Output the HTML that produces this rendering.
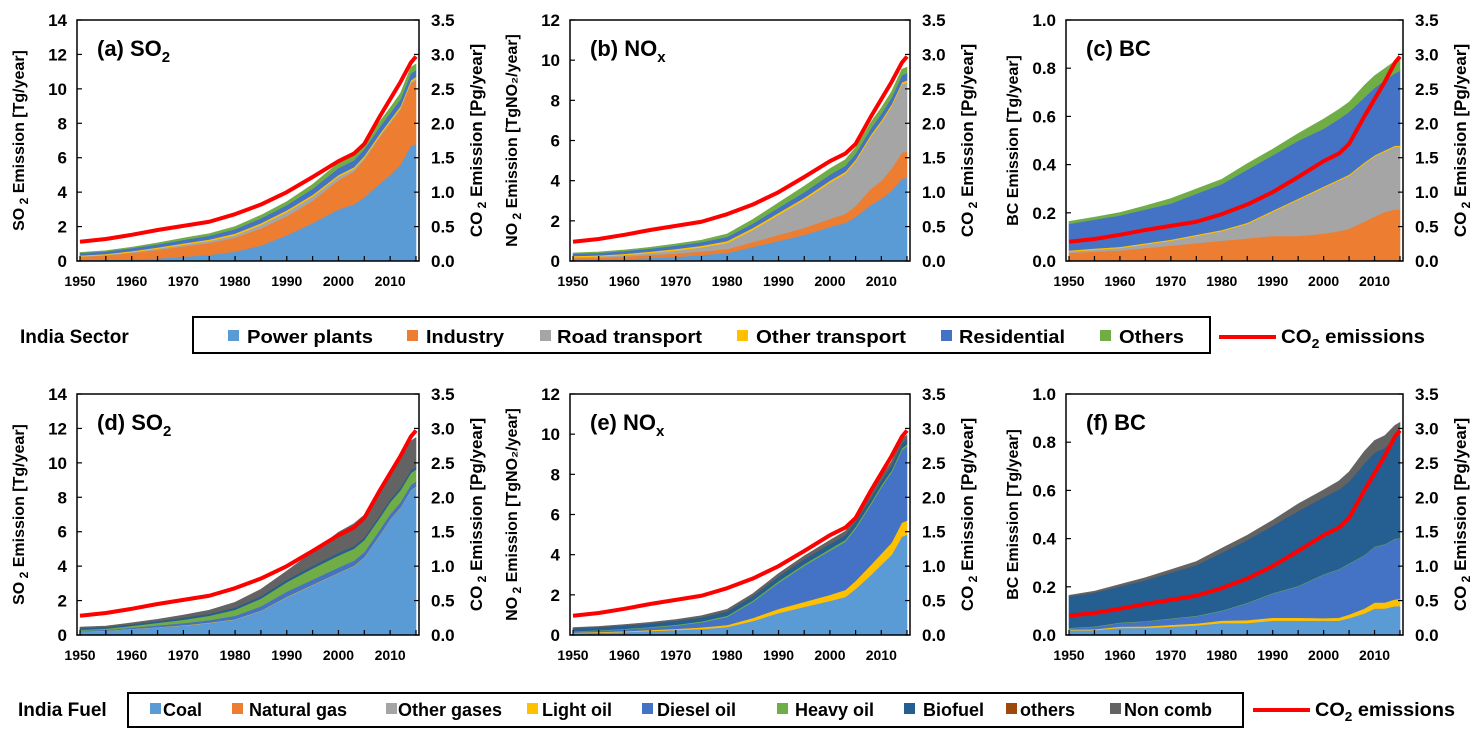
<!DOCTYPE html>
<html><head><meta charset="utf-8"><style>
body{margin:0;background:#fff;}
svg{display:block;font-family:"Liberation Sans",sans-serif;}
</style></head><body>
<svg id="fig" width="1482" height="743" viewBox="0 0 1482 743"></svg>
<script>
const years=[1950,1955,1960,1965,1970,1975,1980,1985,1990,1995,2000,2003,2005,2008,2010,2012,2014,2015];
const co2=[0.28,0.32,0.38,0.45,0.51,0.57,0.68,0.82,1.0,1.22,1.45,1.56,1.7,2.1,2.35,2.6,2.88,2.97];
const secColors=["#5b9bd5","#ed7d31","#a5a5a5","#ffc000","#4472c4","#70ad47"];
const fuelColors=["#5b9bd5","#ed7d31","#a5a5a5","#ffc000","#4472c4","#70ad47","#255e91","#9e480e","#636363"];
// (a) SO2 by sector
const aPower=[0.05,0.08,0.12,0.15,0.25,0.35,0.55,0.9,1.5,2.2,3.0,3.3,3.7,4.5,5.0,5.6,6.7,6.8];
const aIndustry=[0.2,0.25,0.35,0.5,0.6,0.7,0.8,1.0,1.1,1.3,1.7,1.9,2.2,2.7,3.0,3.2,3.6,3.7];
const aRoad=[0.02,0.03,0.05,0.07,0.1,0.12,0.15,0.2,0.25,0.25,0.2,0.15,0.1,0.1,0.1,0.1,0.1,0.1];
const aOtherTr=[0.05,0.05,0.06,0.07,0.08,0.08,0.1,0.1,0.1,0.1,0.1,0.1,0.1,0.1,0.1,0.1,0.1,0.1];
const aResid=[0.15,0.15,0.17,0.18,0.2,0.22,0.25,0.28,0.3,0.35,0.4,0.4,0.4,0.4,0.4,0.4,0.4,0.4];
const aOthers=[0.03,0.04,0.05,0.08,0.1,0.12,0.15,0.18,0.2,0.25,0.3,0.3,0.3,0.3,0.3,0.35,0.35,0.35];
// (b) NOx by sector
const bPower=[0.05,0.07,0.1,0.15,0.2,0.3,0.4,0.7,1.0,1.3,1.7,1.9,2.2,2.8,3.1,3.5,4.1,4.15];
const bIndustry=[0.1,0.1,0.12,0.15,0.17,0.18,0.2,0.25,0.3,0.35,0.4,0.45,0.55,0.8,0.9,1.1,1.3,1.3];
const bRoad=[0.05,0.06,0.08,0.1,0.15,0.2,0.3,0.6,1.0,1.4,1.8,2.0,2.2,2.6,2.9,3.1,3.4,3.45];
const bOtherTr=[0.05,0.05,0.06,0.07,0.08,0.08,0.1,0.1,0.1,0.1,0.1,0.1,0.1,0.1,0.1,0.1,0.1,0.1];
const bResid=[0.12,0.13,0.14,0.15,0.17,0.18,0.2,0.22,0.25,0.28,0.3,0.3,0.3,0.32,0.33,0.34,0.35,0.35];
const bOthers=[0.03,0.04,0.05,0.06,0.08,0.1,0.15,0.2,0.25,0.3,0.3,0.3,0.3,0.3,0.3,0.3,0.3,0.3];
// (c) BC by sector
const cPower=[0.004,0.004,0.004,0.004,0.004,0.004,0.004,0.004,0.004,0.004,0.004,0.004,0.004,0.004,0.004,0.004,0.004,0.004];
const cIndustry=[0.03,0.035,0.04,0.05,0.06,0.07,0.08,0.09,0.1,0.1,0.11,0.12,0.13,0.16,0.18,0.2,0.21,0.21];
const cRoad=[0.005,0.008,0.01,0.015,0.02,0.03,0.04,0.06,0.1,0.15,0.19,0.21,0.22,0.24,0.25,0.25,0.26,0.26];
const cOtherTr=[0.005,0.005,0.005,0.005,0.005,0.005,0.005,0.005,0.005,0.005,0.005,0.005,0.005,0.005,0.005,0.005,0.005,0.005];
const cResid=[0.11,0.12,0.13,0.14,0.15,0.17,0.19,0.22,0.23,0.24,0.24,0.25,0.26,0.27,0.28,0.29,0.3,0.31];
const cOthers=[0.01,0.01,0.012,0.015,0.02,0.02,0.02,0.025,0.025,0.03,0.04,0.04,0.04,0.05,0.05,0.05,0.05,0.05];
// (d) SO2 by fuel
const dCoal=[0.2,0.25,0.35,0.45,0.55,0.7,0.9,1.4,2.2,2.9,3.6,4.0,4.5,5.8,6.7,7.4,8.4,8.6];
const dGas=[0,0,0,0,0,0,0,0,0,0,0,0,0,0,0,0,0,0];
const dOtherGas=[0,0,0,0,0,0,0,0,0,0,0,0,0,0,0,0,0,0];
const dLight=[0.01,0.01,0.01,0.01,0.02,0.02,0.02,0.02,0.02,0.02,0.02,0.02,0.02,0.02,0.02,0.02,0.02,0.02];
const dDiesel=[0.05,0.05,0.07,0.1,0.12,0.15,0.2,0.25,0.3,0.3,0.3,0.3,0.3,0.3,0.3,0.3,0.3,0.3];
const dHeavy=[0.05,0.06,0.1,0.15,0.2,0.25,0.35,0.45,0.55,0.65,0.7,0.7,0.7,0.7,0.7,0.7,0.7,0.7];
const dBio=[0.1,0.1,0.1,0.1,0.12,0.12,0.13,0.14,0.15,0.15,0.15,0.15,0.15,0.15,0.15,0.15,0.15,0.15];
const dOthers=[0,0,0,0,0,0,0,0,0,0,0,0,0,0,0,0,0,0];
const dNonComb=[0.05,0.05,0.08,0.1,0.15,0.2,0.3,0.4,0.5,0.8,1.2,1.3,1.3,1.4,1.5,1.6,1.7,1.7];
// (e) NOx by fuel
const eCoal=[0.1,0.12,0.15,0.2,0.25,0.3,0.4,0.7,1.1,1.4,1.7,1.9,2.3,3.0,3.5,4.0,4.9,5.0];
const eGas=[0,0,0,0,0,0,0,0,0,0,0,0,0,0,0,0,0,0];
const eOtherGas=[0,0,0,0,0,0,0,0,0,0,0,0,0,0,0,0,0,0];
const eLight=[0.02,0.03,0.04,0.05,0.06,0.08,0.1,0.15,0.2,0.25,0.3,0.35,0.4,0.5,0.55,0.6,0.7,0.7];
const eDiesel=[0.05,0.07,0.09,0.12,0.16,0.25,0.4,0.8,1.3,1.8,2.2,2.4,2.6,3.0,3.3,3.5,3.6,3.7];
const eHeavy=[0.02,0.02,0.03,0.03,0.04,0.05,0.06,0.07,0.08,0.08,0.09,0.09,0.1,0.1,0.1,0.1,0.1,0.1];
const eBio=[0.15,0.16,0.17,0.18,0.2,0.2,0.22,0.22,0.24,0.25,0.25,0.25,0.25,0.25,0.25,0.25,0.25,0.25];
const eOthers=[0,0,0,0,0,0,0,0,0,0,0,0,0,0,0,0,0,0];
const eNonComb=[0.03,0.03,0.04,0.05,0.06,0.08,0.1,0.12,0.14,0.16,0.18,0.18,0.18,0.2,0.2,0.2,0.2,0.2];
// (f) BC by fuel
const fCoal=[0.02,0.02,0.03,0.03,0.035,0.04,0.05,0.05,0.06,0.06,0.06,0.06,0.07,0.09,0.11,0.11,0.12,0.12];
const fGas=[0,0,0,0,0,0,0,0,0,0,0,0,0,0,0,0,0,0];
const fOtherGas=[0,0,0,0,0,0,0,0,0,0,0,0,0,0,0,0,0,0];
const fLight=[0.003,0.004,0.005,0.006,0.007,0.008,0.01,0.012,0.012,0.012,0.01,0.012,0.015,0.02,0.025,0.025,0.028,0.03];
const fDiesel=[0.005,0.01,0.015,0.02,0.025,0.03,0.04,0.07,0.1,0.13,0.18,0.2,0.21,0.22,0.23,0.24,0.25,0.25];
const fHeavy=[0.002,0.002,0.002,0.002,0.002,0.002,0.002,0.002,0.002,0.002,0.002,0.002,0.002,0.002,0.002,0.002,0.002,0.002];
const fBio=[0.13,0.14,0.15,0.17,0.19,0.21,0.24,0.26,0.28,0.31,0.32,0.33,0.34,0.38,0.39,0.4,0.42,0.43];
const fOthers=[0,0,0,0,0,0,0,0,0,0,0,0,0,0,0,0,0,0];
const fNonComb=[0.005,0.006,0.008,0.01,0.012,0.015,0.018,0.02,0.022,0.03,0.03,0.035,0.04,0.05,0.05,0.05,0.05,0.05];
const xTicks=[1950,1960,1970,1980,1990,2000,2010];
const rTicks=["0.0","0.5","1.0","1.5","2.0","2.5","3.0","3.5"];

const NS="http://www.w3.org/2000/svg";
const svg=document.getElementById('fig');
function mk(tag,attrs,parent){const e=document.createElementNS(NS,tag);for(const k in attrs)e.setAttribute(k,attrs[k]);(parent||svg).appendChild(e);return e;}

const panels=[
 {id:"a",L:77,R:419,T:20,B:261,ymax:14,step:2,dec:0,title:"(a) SO",sub:"2",ylab:["SO"," 2"," Emission [Tg/year]"],series:[aPower,aIndustry,aRoad,aOtherTr,aResid,aOthers],colors:secColors},
 {id:"b",L:570,R:910,T:20,B:261,ymax:12,step:2,dec:0,title:"(b) NO",sub:"x",ylab:["NO"," 2"," Emission [TgNO\u2082/year]"],series:[bPower,bIndustry,bRoad,bOtherTr,bResid,bOthers],colors:secColors},
 {id:"c",L:1066,R:1403,T:20,B:261,ymax:1.0,step:0.2,dec:1,title:"(c) BC",sub:"",ylab:["BC Emission [Tg/year]"],series:[cPower,cIndustry,cRoad,cOtherTr,cResid,cOthers],colors:secColors},
 {id:"d",L:77,R:419,T:394,B:635,ymax:14,step:2,dec:0,title:"(d) SO",sub:"2",ylab:["SO"," 2"," Emission [Tg/year]"],series:[dCoal,dGas,dOtherGas,dLight,dDiesel,dHeavy,dBio,dOthers,dNonComb],colors:fuelColors},
 {id:"e",L:570,R:910,T:394,B:635,ymax:12,step:2,dec:0,title:"(e) NO",sub:"x",ylab:["NO"," 2"," Emission [TgNO\u2082/year]"],series:[eCoal,eGas,eOtherGas,eLight,eDiesel,eHeavy,eBio,eOthers,eNonComb],colors:fuelColors},
 {id:"f",L:1066,R:1403,T:394,B:635,ymax:1.0,step:0.2,dec:1,title:"(f) BC",sub:"",ylab:["BC Emission [Tg/year]"],series:[fCoal,fGas,fOtherGas,fLight,fDiesel,fHeavy,fBio,fOthers,fNonComb],colors:fuelColors}
];

panels.forEach(p=>{
  const g=mk('g',{});
  
  
  const x=yr=>p.L+3+(yr-1950)/65*(p.R-p.L-6);
  const y=v=>p.B-v/p.ymax*(p.B-p.T);
  const yr2=v=>p.B-v/3.5*(p.B-p.T);
  let base=years.map(()=>0);
  p.series.forEach((s,si)=>{
    const top=base.map((b,i)=>b+s[i]);
    let d="M"+years.map((yy,i)=>x(yy)+","+y(top[i])).join("L");
    for(let i=years.length-1;i>=0;i--) d+="L"+x(years[i])+","+y(base[i]);
    d+="Z";
    const a=mk('path',{d:d,fill:p.colors[si],stroke:p.colors[si],'stroke-width':0.6},g);
    
    
    base=top;
  });
  const ln=mk('polyline',{points:years.map((yy,i)=>x(yy)+","+yr2(co2[i])).join(" "),fill:"none",stroke:"#ff0000","stroke-width":4,"stroke-linejoin":"round"},g);
  
  
  const fr=mk('rect',{x:p.L,y:p.T,width:p.R-p.L,height:p.B-p.T,fill:"none",stroke:"#000","stroke-width":1.5},g);
  
  
  for(let yy=1950;yy<=2015;yy+=5){mk('line',{x1:x(yy),x2:x(yy),y1:p.B,y2:p.B-5,stroke:"#000","stroke-width":1.2},g);}
  xTicks.forEach(yy=>{const t=mk('text',{x:x(yy),y:p.B+25,'text-anchor':'middle','font-size':14,'font-weight':'bold'},g);t.textContent=yy;
    
    });
  const n=Math.round(p.ymax/p.step);
  for(let k=0;k<=n;k++){const v=k*p.step;
    mk('line',{x1:p.L,x2:p.L+5,y1:y(v),y2:y(v),stroke:"#000","stroke-width":1.2},g);
    const t=mk('text',{x:p.L-10,y:y(v)+6,'text-anchor':'end','font-size':17,'font-weight':'bold'},g);t.textContent=v.toFixed(p.dec);
    
    }
  rTicks.forEach((lab,k)=>{const v=k*0.5;
    mk('line',{x1:p.R,x2:p.R-5,y1:yr2(v),y2:yr2(v),stroke:"#000","stroke-width":1.2},g);
    const t=mk('text',{x:p.R+12,y:yr2(v)+6,'font-size':17,'font-weight':'bold'},g);t.textContent=lab;
    
    });
  const cy=(p.T+p.B)/2;
  const lx=p.L-(p.ymax>=10?53:48);
  const lt=mk('text',{x:lx,y:cy,'text-anchor':'middle','font-size':16,'font-weight':'bold',transform:`rotate(-90 ${lx} ${cy})`},g);
  
  
  if(p.ylab.length===1){lt.textContent=p.ylab[0];}
  else{const s1=mk('tspan',{},lt);s1.textContent=p.ylab[0];const s2=mk('tspan',{'font-size':12,dy:4},lt);s2.textContent=p.ylab[1];const s3=mk('tspan',{dy:-4},lt);s3.textContent=p.ylab[2];}
  const rx=p.R+63;
  const rt=mk('text',{x:rx,y:cy,'text-anchor':'middle','font-size':17,'font-weight':'bold',transform:`rotate(-90 ${rx} ${cy})`},g);
  
  
  const r1=mk('tspan',{},rt);r1.textContent="CO";const r2=mk('tspan',{'font-size':12,dy:4},rt);r2.textContent=" 2";const r3=mk('tspan',{dy:-4},rt);r3.textContent=" Emission [Pg/year]";
  const tt=mk('text',{x:p.L+20,y:p.T+36,'font-size':22,'font-weight':'bold'},g);
  
  
  const t1=mk('tspan',{},tt);t1.textContent=p.title;
  if(p.sub){const t2=mk('tspan',{'font-size':15,dy:6},tt);t2.textContent=p.sub;}
});

function legend(label,lx,ly,box,entries,colors,co2x,co2w,fs,fit){
  const g=mk('g',{});
  
  
  const t=mk('text',{x:lx,y:ly,'font-size':fs+1,'font-weight':'bold'},g);t.textContent=label;
  
  
  mk('rect',{x:box[0],y:box[1],width:box[2]-box[0],height:box[3]-box[1],fill:"none",stroke:"#000","stroke-width":2},g);
  entries.forEach((e,i)=>{
    const r=mk('rect',{x:e[1],y:ly-13,width:11,height:11,fill:colors[i]},g);
    
    
    const at={x:e[2],y:ly,'font-size':fs,'font-weight':'bold'};
    if(fit){at.textLength=e[3]-e[2];at.lengthAdjust='spacingAndGlyphs';}
    const tx=mk('text',at,g);
    tx.textContent=e[0];
    
    
  });
  const l=mk('line',{x1:co2x,x2:co2x+57,y1:ly-6,y2:ly-6,stroke:"#ff0000","stroke-width":4},g);
  
  
  const ct=mk('text',{x:co2x+62,y:ly,'font-size':fs+1,'font-weight':'bold',textLength:co2w,lengthAdjust:'spacingAndGlyphs'},g);
  
  
  const c1=mk('tspan',{},ct);c1.textContent="CO";const c2=mk('tspan',{'font-size':13,dy:5},ct);c2.textContent="2";const c3=mk('tspan',{dy:-5},ct);c3.textContent=" emissions";
}
legend("India Sector",20,343,[193,317,1210,353],
 [["Power plants",228,247,373],["Industry",407,426,504],["Road transport",540,557,702],["Other transport",737,756,906],["Residential",941,959,1065],["Others",1100,1119,1184]],
 secColors,1219,144,18,true);
legend("India Fuel",18,716,[128,693,1243,727],
 [["Coal",150,163,0],["Natural gas",232,249,0],["Other gases",386,398,0],["Light oil",527,542,0],["Diesel oil",642,657,0],["Heavy oil",777,795,0],["Biofuel",904,923,0],["others",1006,1020,0],["Non comb",1110,1124,0]],
 fuelColors,1253,140,18,false);
</script>
</body></html>
